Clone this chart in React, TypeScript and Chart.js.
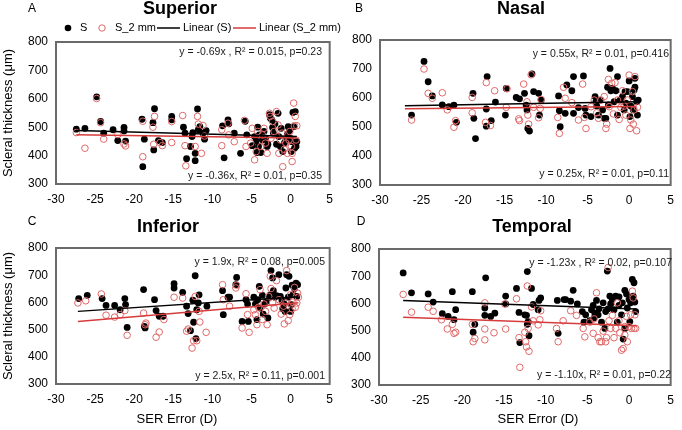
import React, { useEffect, useRef } from "react";
import { Chart, registerables } from "chart.js";
Chart.register(...registerables);

const FONT = "'Liberation Sans', Arial, sans-serif";
const BLACK = "#000000";
const RED_PT = "#e06868";
const RED_LN = "#d63c3c";
const FRAME = "#6a6a6a";

const xTicks = [-30, -25, -20, -15, -10, -5, 0, 5];
const yTicks = [300, 400, 500, 600, 700, 800];
const legendLabels = ["S", "S_2 mm", "Linear (S)", "Linear (S_2 mm)"];
const yTitleText = "Scleral thickness (μm)";
const xTitleText = "SER Error (D)";
const panelTitles = ["Superior", "Nasal", "Inferior", "Temporal"];
const panelLetters = ["A", "B", "C", "D"];
const eqS = [
  "y = -0.69x , R² = 0.015, p=0.23",
  "y = 0.55x, R² = 0.01, p=0.416",
  "y = 1.9x, R² = 0.08, p=0.005",
  "y = -1.23x , R² = 0.02, p=0.107",
];
const eqS2 = [
  "y = -0.36x, R² = 0.01, p=0.35",
  "y = 0.25x, R² = 0.01, p=0.11",
  "y = 2.5x, R² = 0.11, p=0.001",
  "y = -1.10x, R² = 0.01, p=0.22",
];

// Fitted line endpoints (x range, y at the ends)
const fitX = [[-27.4, 0.8], [-27.0, 0.9], [-27.2, 1.0], [-27.1, 0.9]];
const fitS = [[488, 467], [573, 587], [567, 621], [611, 579]];
const fitS2 = [[473, 462], [563, 571], [530, 599], [549, 518]];

const superiorS: number[][] = [
  [-27.4, 493], [-26.3, 496], [-24.8, 607], [-24.3, 520], [-23.9, 479], [-22.7, 491], [-22.1, 453], [-21.3, 499],
  [-21.3, 487], [-21.1, 451], [-19.0, 528], [-18.9, 361], [-18.7, 458], [-17.4, 565], [-17.6, 516], [-17.5, 420],
  [-16.9, 453], [-16.4, 446], [-15.2, 538], [-15.2, 526], [-13.7, 500], [-13.5, 479], [-13.3, 389], [-12.8, 432],
  [-12.6, 467], [-12.5, 481], [-12.2, 408], [-12.2, 382], [-11.9, 564], [-11.8, 491], [-11.6, 502], [-11.2, 479],
  [-11.0, 458], [-10.8, 488], [-8.7, 505], [-8.5, 392], [-8.0, 526], [-7.9, 512], [-7.2, 479], [-6.4, 408],
  [-5.8, 521], [-5.6, 473], [-4.9, 435], [-4.6, 467], [-4.4, 452], [-4.3, 411], [-4.2, 500], [-4.1, 432],
  [-4.0, 473], [-3.8, 411], [-3.6, 455], [-3.4, 485], [-3.2, 461], [-3.0, 432], [-2.9, 440], [-2.7, 544],
  [-2.6, 532], [-2.4, 526], [-2.3, 499], [-2.2, 479], [-2.0, 512], [-1.8, 440], [-1.6, 549], [-1.5, 467],
  [-1.3, 432], [-1.2, 496], [-1.0, 414], [-0.8, 444], [-0.6, 455], [-0.4, 475], [-0.3, 502], [-0.1, 488],
  [0.0, 461], [0.1, 414], [0.2, 449], [0.3, 552], [0.4, 502], [0.5, 426], [0.6, 555], [0.7, 432], [0.8, 449],
];
const superiorS2: number[][] = [
  [-27.4, 481], [-26.3, 426], [-24.8, 601], [-24.3, 516], [-23.9, 458], [-22.1, 474], [-21.3, 441], [-21.1, 434],
  [-18.9, 396], [-18.9, 521], [-17.4, 538], [-17.6, 500], [-17.5, 440], [-16.7, 446], [-16.4, 435], [-15.2, 520],
  [-15.2, 446], [-13.8, 541], [-13.5, 435], [-13.4, 364], [-12.2, 432], [-11.9, 538], [-11.8, 511], [-11.4, 408],
  [-11.2, 506], [-11.0, 469], [-8.8, 491], [-8.8, 435], [-8.0, 514], [-7.9, 473], [-7.2, 449], [-5.9, 524],
  [-5.7, 432], [-5.1, 444], [-4.9, 496], [-4.6, 385], [-4.4, 414], [-4.2, 485], [-3.8, 432], [-3.6, 473],
  [-3.4, 496], [-3.2, 444], [-3.0, 408], [-2.7, 549], [-2.6, 538], [-2.5, 461], [-2.3, 520], [-2.1, 485],
  [-1.8, 555], [-1.6, 508], [-1.5, 408], [-1.3, 455], [-1.1, 479], [-1.0, 361], [-0.8, 422], [-0.6, 444],
  [-0.4, 408], [-0.2, 455], [-0.1, 485], [0.1, 432], [0.2, 379], [0.2, 408], [0.4, 585], [0.5, 505],
  [0.6, 538], [0.7, 455], [0.8, 505],
];
const nasalS: number[][] = [
  [-26.2, 541], [-24.7, 726], [-24.2, 656], [-23.7, 607], [-22.5, 576], [-21.7, 570], [-21.1, 575], [-20.8, 516],
  [-18.8, 616], [-18.7, 530], [-18.5, 460], [-17.2, 562], [-17.1, 674], [-17.2, 503], [-16.6, 522], [-16.1, 586],
  [-14.9, 541], [-14.8, 633], [-13.6, 602], [-13.2, 597], [-12.6, 616], [-12.4, 575], [-12.3, 559], [-12.2, 495],
  [-12.0, 486], [-11.7, 683], [-11.5, 622], [-10.9, 616], [-10.8, 541], [-10.6, 593], [-8.5, 607], [-8.4, 556],
  [-8.3, 501], [-7.7, 547], [-7.5, 645], [-6.9, 625], [-6.7, 547], [-6.7, 674], [-6.1, 567], [-5.5, 676],
  [-5.3, 564], [-5.2, 541], [-4.6, 536], [-4.1, 605], [-4.0, 587], [-3.9, 572], [-3.7, 541], [-3.5, 593],
  [-3.2, 559], [-3.0, 530], [-2.8, 530], [-2.6, 637], [-2.5, 576], [-2.3, 702], [-2.2, 625], [-2.0, 633],
  [-1.8, 587], [-1.6, 625], [-1.4, 674], [-1.4, 541], [-1.1, 593], [-0.8, 605], [-0.6, 559], [-0.5, 622],
  [-0.4, 582], [-0.2, 622], [0.0, 659], [0.1, 536], [0.2, 572], [0.4, 605], [0.5, 559], [0.6, 628],
  [0.7, 637], [0.7, 668], [0.9, 587], [1.0, 541], [1.1, 593],
];
const nasalS2: number[][] = [
  [-26.2, 524], [-24.7, 700], [-24.2, 616], [-23.7, 599], [-22.5, 618], [-21.9, 559], [-21.1, 499], [-20.9, 522],
  [-18.9, 602], [-18.9, 549], [-17.2, 653], [-17.3, 516], [-16.7, 505], [-16.2, 625], [-14.8, 568], [-14.7, 632],
  [-13.3, 528], [-13.2, 522], [-12.7, 648], [-12.3, 587], [-12.2, 541], [-12.1, 510], [-11.8, 680], [-11.5, 568],
  [-10.9, 532], [-10.7, 564], [-10.6, 595], [-8.6, 533], [-8.4, 478], [-7.9, 637], [-7.7, 599], [-6.9, 584],
  [-6.1, 524], [-5.6, 648], [-5.4, 533], [-5.2, 495], [-4.6, 570], [-4.2, 593], [-3.9, 549], [-3.7, 530],
  [-3.4, 593], [-3.0, 605], [-2.8, 495], [-2.7, 510], [-2.5, 664], [-2.4, 570], [-2.1, 651], [-1.9, 545],
  [-1.7, 653], [-1.4, 593], [-1.2, 526], [-1.0, 568], [-0.8, 625], [-0.6, 572], [-0.4, 541], [-0.2, 593],
  [0.0, 679], [0.1, 495], [0.2, 524], [0.4, 622], [0.5, 510], [0.6, 559], [0.7, 674], [0.9, 487], [1.0, 568],
];
const inferiorS: number[][] = [
  [-27.1, 614], [-26.0, 626], [-24.1, 614], [-23.6, 589], [-22.5, 589], [-21.8, 573], [-21.2, 614], [-21.1, 592],
  [-20.9, 508], [-18.8, 647], [-18.7, 512], [-18.6, 506], [-17.4, 610], [-17.2, 570], [-16.8, 549], [-16.3, 549],
  [-14.9, 669], [-14.9, 653], [-13.8, 637], [-13.3, 586], [-13.1, 559], [-12.8, 496], [-12.5, 608], [-12.4, 527],
  [-12.2, 698], [-12.1, 467], [-12.0, 573], [-11.8, 598], [-11.7, 628], [-10.7, 586], [-8.7, 643], [-8.6, 555],
  [-8.0, 619], [-7.8, 619], [-7.0, 665], [-6.9, 692], [-6.2, 530], [-5.7, 610], [-5.5, 594], [-5.4, 530],
  [-4.7, 619], [-4.5, 594], [-4.3, 537], [-4.2, 610], [-4.0, 659], [-3.9, 579], [-3.6, 626], [-3.5, 557],
  [-3.3, 594], [-3.1, 604], [-2.9, 543], [-2.7, 619], [-2.6, 628], [-2.5, 717], [-2.3, 690], [-2.2, 643],
  [-2.0, 619], [-1.8, 625], [-1.5, 702], [-1.3, 622], [-1.1, 606], [-1.0, 577], [-0.8, 594], [-0.7, 567],
  [-0.6, 653], [-0.5, 702], [-0.3, 619], [-0.2, 696], [0.0, 567], [0.1, 592], [0.2, 663], [0.3, 628],
  [0.5, 651], [0.7, 671], [0.8, 622], [0.9, 665],
];
const inferiorS2: number[][] = [
  [-27.2, 598], [-26.2, 606], [-24.2, 631], [-23.6, 553], [-22.5, 546], [-21.8, 555], [-21.2, 570], [-20.9, 479],
  [-18.8, 561], [-18.6, 518], [-18.5, 524], [-17.2, 472], [-16.8, 491], [-16.2, 537], [-14.9, 619], [-13.8, 616],
  [-13.3, 494], [-13.1, 502], [-12.6, 432], [-12.4, 459], [-12.2, 622], [-12.0, 459], [-11.7, 567], [-11.6, 528],
  [-10.8, 490], [-8.7, 665], [-8.6, 610], [-7.8, 586], [-7.0, 653], [-6.9, 663], [-6.2, 506], [-5.7, 632],
  [-5.5, 555], [-5.3, 490], [-4.7, 573], [-4.5, 555], [-4.3, 518], [-4.1, 582], [-3.9, 647], [-3.6, 537],
  [-3.4, 594], [-3.2, 567], [-3.0, 518], [-2.8, 622], [-2.6, 696], [-2.5, 651], [-2.3, 598], [-2.1, 579],
  [-1.8, 680], [-1.5, 610], [-1.2, 557], [-0.9, 586], [-0.8, 521], [-0.6, 598], [-0.5, 717], [-0.3, 533],
  [-0.1, 555], [0.0, 628], [0.2, 577], [0.3, 601], [0.5, 655], [0.6, 582], [0.8, 598], [0.9, 634], [1.0, 619],
];
const temporalS: number[][] = [
  [-27.1, 712], [-26.1, 639], [-24.1, 635], [-23.5, 605], [-22.4, 562], [-21.7, 552], [-21.2, 643], [-21.0, 540],
  [-20.8, 577], [-18.8, 643], [-18.7, 494], [-18.5, 523], [-17.2, 694], [-17.3, 583], [-17.3, 556], [-16.6, 552],
  [-16.1, 564], [-14.8, 627], [-14.8, 598], [-13.5, 655], [-13.2, 567], [-13.1, 456], [-12.5, 558], [-12.3, 556],
  [-12.2, 523], [-12.2, 717], [-12.0, 481], [-12.1, 533], [-11.7, 655], [-11.5, 596], [-10.9, 577], [-10.8, 611],
  [-10.6, 620], [-8.6, 611], [-8.5, 490], [-7.8, 614], [-7.6, 614], [-7.0, 608], [-6.7, 648], [-6.2, 598],
  [-5.6, 570], [-5.4, 531], [-5.2, 558], [-4.7, 537], [-4.5, 577], [-4.3, 593], [-4.2, 546], [-4.1, 564],
  [-3.9, 611], [-3.7, 558], [-3.6, 580], [-3.3, 531], [-3.1, 602], [-2.9, 508], [-2.8, 570], [-2.6, 719],
  [-2.5, 580], [-2.3, 627], [-2.2, 598], [-2.0, 614], [-1.8, 577], [-1.6, 627], [-1.4, 531], [-1.2, 624],
  [-1.2, 593], [-0.9, 558], [-0.8, 602], [-0.7, 469], [-0.5, 648], [-0.5, 508], [-0.3, 635], [-0.2, 583],
  [0.0, 614], [0.1, 533], [0.2, 602], [0.4, 688], [0.5, 627], [0.6, 676], [0.7, 605], [0.8, 570],
];
const temporalS2: number[][] = [
  [-27.1, 633], [-26.1, 568], [-24.1, 586], [-23.5, 571], [-22.5, 540], [-21.8, 506], [-21.2, 523], [-21.0, 490],
  [-20.8, 494], [-18.8, 523], [-18.7, 459], [-18.5, 471], [-17.3, 602], [-17.3, 506], [-17.3, 466], [-16.2, 492],
  [-14.9, 598], [-14.8, 506], [-13.5, 617], [-13.2, 474], [-13.1, 365], [-12.5, 494], [-12.4, 459], [-12.3, 440],
  [-12.2, 664], [-12.1, 508], [-12.0, 424], [-11.7, 587], [-11.5, 536], [-10.9, 521], [-10.7, 540], [-10.6, 573],
  [-8.7, 508], [-8.5, 459], [-7.9, 536], [-7.0, 573], [-6.3, 556], [-5.5, 508], [-5.3, 477], [-4.7, 531],
  [-4.3, 490], [-4.2, 543], [-3.9, 639], [-3.7, 474], [-3.5, 459], [-3.3, 459], [-3.1, 498], [-2.8, 459],
  [-2.7, 474], [-2.5, 732], [-2.4, 536], [-2.2, 508], [-2.0, 556], [-1.8, 474], [-1.6, 508], [-1.4, 602],
  [-1.2, 536], [-1.1, 492], [-0.9, 428], [-0.7, 434], [-0.5, 515], [-0.5, 484], [-0.3, 552], [-0.2, 459],
  [0.0, 515], [0.2, 558], [0.3, 508], [0.4, 645], [0.5, 620], [0.6, 508], [0.7, 558], [0.8, 508],
];

const seriesS = [superiorS, nasalS, inferiorS, temporalS];
const seriesS2 = [superiorS2, nasalS2, inferiorS2, temporalS2];

type Layout = {
  left: number; top: number; yW: number; padTop: number; padRight: number; xH: number;
  yTitle: boolean; xTitle: boolean; legend: boolean;
  titleX: number; titleY: number; letterX: number; letterY: number;
  eqTop: [number, number]; eqBot: [number, number]; xTitlePos: [number, number];
};

const LAYOUTS: Layout[] = [
  { left: 0, top: 0, yW: 56, padTop: 42, padRight: 8, xH: 31, yTitle: true, xTitle: false, legend: true,
    titleX: 180, titleY: 14, letterX: 32, letterY: 12, eqTop: [322, 52], eqBot: [322, 176], xTitlePos: [0, 0] },
  { left: 341, top: 0, yW: 39, padTop: 40, padRight: 8, xH: 30, yTitle: false, xTitle: false, legend: false,
    titleX: 180, titleY: 14, letterX: 18, letterY: 12, eqTop: [328, 54], eqBot: [328, 174], xTitlePos: [0, 0] },
  { left: 0, top: 215, yW: 56, padTop: 33, padRight: 8, xH: 46, yTitle: true, xTitle: true, legend: false,
    titleX: 168, titleY: 17, letterX: 32, letterY: 10, eqTop: [325, 47], eqBot: [325, 161], xTitlePos: [177, 204] },
  { left: 341, top: 215, yW: 38, padTop: 34, padRight: 7, xH: 45, yTitle: false, xTitle: true, legend: false,
    titleX: 191, titleY: 17, letterX: 20, letterY: 10, eqTop: [331, 48], eqBot: [330, 160], xTitlePos: [197, 204] },
];

function Panel({ idx }: { idx: number }) {
  const ref = useRef<HTMLCanvasElement>(null);
  const L = LAYOUTS[idx];
  useEffect(() => {
    if (!ref.current) return;
    const deco = {
      id: "deco" + idx,
      afterDraw(chart: any) {
        const { ctx, chartArea: a } = chart;
        ctx.save();
        ctx.strokeStyle = FRAME;
        ctx.lineWidth = 2;
        ctx.strokeRect(a.left, a.top, a.right - a.left, a.bottom - a.top);
        ctx.fillStyle = "#000";
        // letter
        ctx.font = `12px ${FONT}`;
        ctx.textAlign = "center";
        ctx.textBaseline = "alphabetic";
        ctx.fillText(panelLetters[idx], L.letterX, L.letterY);
        // title
        ctx.font = `bold 18px ${FONT}`;
        ctx.fillText(panelTitles[idx], L.titleX, L.titleY);
        // equations
        ctx.font = `10.5px ${FONT}`;
        ctx.textAlign = "right";
        ctx.textBaseline = "middle";
        ctx.fillStyle = "#1a1a1a";
        ctx.fillText(eqS[idx], L.eqTop[0], L.eqTop[1]);
        ctx.fillText(eqS2[idx], L.eqBot[0], L.eqBot[1]);
        // x title
        if (L.xTitle) {
          ctx.fillStyle = "#000";
          ctx.font = `13px ${FONT}`;
          ctx.textAlign = "center";
          ctx.fillText(xTitleText, L.xTitlePos[0], L.xTitlePos[1]);
        }
        // legend
        if (L.legend) {
          const y = 28;
          ctx.font = `11px ${FONT}`;
          ctx.textAlign = "left";
          ctx.textBaseline = "middle";
          ctx.fillStyle = "#000";
          ctx.beginPath();
          ctx.arc(68, y, 3.3, 0, Math.PI * 2);
          ctx.fill();
          ctx.fillText(legendLabels[0], 80, y);
          ctx.beginPath();
          ctx.strokeStyle = RED_PT;
          ctx.lineWidth = 1;
          ctx.arc(102, y, 3.2, 0, Math.PI * 2);
          ctx.stroke();
          ctx.fillText(legendLabels[1], 115, y);
          ctx.beginPath();
          ctx.strokeStyle = BLACK;
          ctx.lineWidth = 1.5;
          ctx.moveTo(157, y);
          ctx.lineTo(180, y);
          ctx.stroke();
          ctx.fillText(legendLabels[2], 183, y);
          ctx.beginPath();
          ctx.strokeStyle = RED_LN;
          ctx.moveTo(233, y);
          ctx.lineTo(256, y);
          ctx.stroke();
          ctx.fillText(legendLabels[3], 259, y);
        }
        ctx.restore();
      },
    };
    const fitLine = (ys: number[]) => fitX[idx].map((x, i) => ({ x, y: ys[i] }));
    const chart = new Chart(ref.current, {
      type: "scatter",
      data: {
        datasets: [
          {
            label: legendLabels[2], data: fitLine(fitS[idx]), showLine: true, borderColor: BLACK,
            borderWidth: 1.5, pointRadius: 0, order: 0,
          },
          {
            label: legendLabels[3], data: fitLine(fitS2[idx]), showLine: true, borderColor: RED_LN,
            borderWidth: 1.5, pointRadius: 0, order: 0,
          },
          {
            label: legendLabels[1], data: seriesS2[idx].map(([x, y]) => ({ x, y })), pointRadius: 3.3,
            pointBackgroundColor: "rgba(0,0,0,0)", pointBorderColor: RED_PT, pointBorderWidth: 1, order: 1,
          },
          {
            label: legendLabels[0], data: seriesS[idx].map(([x, y]) => ({ x, y })), pointRadius: 3.4,
            pointBackgroundColor: BLACK, pointBorderColor: BLACK, pointBorderWidth: 0, order: 2,
          },
        ],
      } as any,
      options: {
        responsive: false,
        animation: false,
        events: [],
        layout: { padding: { top: L.padTop, right: L.padRight, left: 0, bottom: 0 } },
        plugins: { legend: { display: false }, tooltip: { enabled: false }, title: { display: false } },
        scales: {
          x: {
            type: "linear", min: -30, max: 5,
            grid: { display: false, drawTicks: false },
            border: { display: false },
            ticks: { font: { family: FONT, size: 12 }, color: "#000", padding: 8, maxRotation: 0 },
            afterBuildTicks: (s: any) => { s.ticks = xTicks.map((v) => ({ value: v })); },
            afterFit: (s: any) => { s.height = L.xH; },
          },
          y: {
            type: "linear", min: 300, max: 800,
            grid: { display: false, drawTicks: false },
            border: { display: false },
            ticks: { font: { family: FONT, size: 12 }, color: "#000", padding: 8 },
            afterBuildTicks: (s: any) => { s.ticks = yTicks.map((v) => ({ value: v })); },
            afterFit: (s: any) => { s.width = L.yW; },
            title: {
              display: L.yTitle, text: yTitleText, color: "#000",
              font: { family: FONT, size: 13 }, padding: { top: 1, bottom: 0 },
            },
          },
        },
      } as any,
      plugins: [deco],
    });
    return () => chart.destroy();
  }, [idx]);
  return (
    <canvas
      ref={ref}
      width={341}
      height={215}
      style={{ position: "absolute", left: L.left, top: L.top, width: 341, height: 215 }}
    />
  );
}

export default function App() {
  return (
    <div style={{ position: "fixed", left: 0, top: 0, width: 682, height: 430, background: "#fff" }}>
      {[0, 1, 2, 3].map((i) => (
        <Panel key={i} idx={i} />
      ))}
    </div>
  );
}
